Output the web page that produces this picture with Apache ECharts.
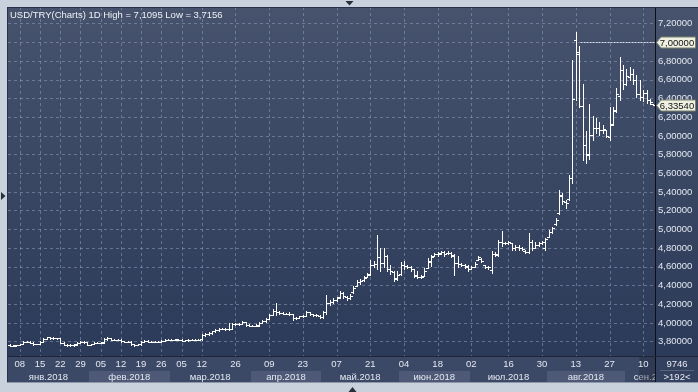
<!DOCTYPE html>
<html><head><meta charset="utf-8">
<script src="https://cdn.jsdelivr.net/npm/echarts@6/dist/echarts.min.js"></script>
<style>html,body{margin:0;padding:0;background:#c9d1dd}#c{width:698px;height:392px}</style>
</head><body><div id="c"></div>
<script>
// ---------------- DATA ----------------
const monthNames = ['янв.2018','фев.2018','мар.2018','апр.2018','май.2018','июн.2018','июл.2018','авг.2018','сен.2018'];
const janDays = [4,5,7,8,9,10,11,12,14,15,16,17,18,19,21,22,23,24,25,26,28,29,30,31];
const febDays = [1,2,4,5,6,7,8,9,11,12,13,14,15,16,18,19,20,21,22,23,25,26,27,28];
const marDays = [1,2,4,5,6,7,8,9,11,12,13,14,15,16,19,20,21,22,23,26,27,28,29,30];
const aprDays = [2,3,4,5,6,9,10,11,12,13,16,17,18,19,20,23,24,25,26,27,30];
const mayDays = [1,2,3,4,7,8,9,10,11,14,15,16,17,18,21,22,23,24,25,28,29,30,31];
const junDays = [1,4,5,6,7,8,11,12,13,14,15,18,19,20,21,22,25,26,27,28,29];
const julDays = [2,3,4,5,6,9,10,11,12,13,15,16,17,18,19,20,23,24,25,26,27,30,31];
const augDays = [1,2,3,6,7,8,9,10,13,14,15,16,17,20,21,22,23,24,27,28,29,30,31];
const sepDays = [3,4,5,6,7,10,11,12,13];

// rows: [open, close, low, high]
const ohlcJan = [
[3.765,3.755,3.750,3.770],[3.755,3.755,3.748,3.762],[3.760,3.765,3.758,3.768],[3.765,3.770,3.760,3.778],
[3.772,3.800,3.770,3.805],[3.800,3.800,3.792,3.808],[3.800,3.790,3.785,3.803],[3.788,3.770,3.766,3.792],
[3.772,3.775,3.770,3.778],[3.776,3.800,3.772,3.806],[3.800,3.830,3.796,3.836],[3.830,3.845,3.826,3.852],
[3.845,3.840,3.832,3.850],[3.840,3.840,3.830,3.848],[3.838,3.835,3.832,3.840],[3.835,3.790,3.786,3.842],
[3.790,3.765,3.760,3.794],[3.765,3.760,3.752,3.770],[3.760,3.765,3.755,3.770],[3.765,3.765,3.758,3.772],
[3.770,3.790,3.768,3.793],[3.790,3.800,3.785,3.806],[3.800,3.795,3.788,3.804],[3.795,3.765,3.760,3.798]];
const ohlcFeb = [
[3.765,3.770,3.760,3.776],[3.772,3.790,3.770,3.795],[3.788,3.790,3.786,3.794],[3.790,3.790,3.782,3.798],
[3.792,3.830,3.790,3.836],[3.830,3.835,3.822,3.845],[3.835,3.820,3.815,3.840],[3.820,3.820,3.812,3.828],
[3.820,3.820,3.816,3.824],[3.820,3.805,3.800,3.826],[3.805,3.800,3.795,3.810],[3.800,3.800,3.792,3.806],
[3.800,3.770,3.765,3.803],[3.770,3.765,3.758,3.775],[3.768,3.770,3.765,3.772],[3.770,3.800,3.768,3.806],
[3.800,3.810,3.795,3.818],[3.810,3.800,3.796,3.814],[3.800,3.800,3.793,3.806],[3.800,3.800,3.795,3.805],
[3.800,3.800,3.798,3.803],[3.800,3.810,3.796,3.815],[3.810,3.820,3.806,3.825],[3.820,3.820,3.812,3.826]];
const ohlcMar = [
[3.820,3.820,3.812,3.828],[3.820,3.825,3.815,3.830],[3.822,3.820,3.818,3.824],[3.820,3.810,3.805,3.825],
[3.810,3.815,3.806,3.822],[3.815,3.820,3.810,3.826],[3.820,3.820,3.812,3.828],[3.820,3.820,3.814,3.826],
[3.822,3.820,3.818,3.825],[3.825,3.870,3.820,3.878],[3.870,3.880,3.862,3.888],[3.880,3.890,3.872,3.898],
[3.892,3.910,3.886,3.918],[3.910,3.920,3.904,3.930],[3.922,3.940,3.918,3.948],[3.940,3.940,3.930,3.950],
[3.940,3.930,3.922,3.946],[3.930,3.930,3.920,4.000],[3.935,3.990,3.930,4.000],[3.990,3.990,3.978,3.998],
[3.988,3.990,3.980,3.996],[3.992,4.010,3.988,4.016],[4.005,3.980,3.970,4.008],[3.980,3.970,3.962,3.985]];
const ohlcApr = [
[3.970,3.970,3.962,3.978],[3.972,3.970,3.964,3.984],[3.975,4.000,3.972,4.012],[4.000,4.020,3.996,4.028],
[4.020,4.040,4.014,4.050],[4.045,4.080,4.040,4.090],[4.085,4.130,4.080,4.150],[4.130,4.120,4.080,4.210],
[4.115,4.110,4.100,4.125],[4.110,4.100,4.090,4.118],[4.100,4.100,4.092,4.110],[4.100,4.100,4.088,4.112],
[4.095,4.050,4.030,4.100],[4.050,4.050,4.040,4.065],[4.055,4.070,4.050,4.078],[4.070,4.070,4.060,4.080],
[4.075,4.120,4.070,4.125],[4.115,4.090,4.082,4.120],[4.090,4.080,4.072,4.095],[4.080,4.080,4.070,4.090],
[4.078,4.060,4.055,4.085]];
const ohlcMay = [
[4.060,4.120,4.050,4.130],[4.120,4.210,4.100,4.300],[4.210,4.220,4.190,4.240],[4.220,4.240,4.210,4.270],
[4.240,4.270,4.230,4.280],[4.280,4.320,4.270,4.340],[4.320,4.290,4.270,4.330],[4.280,4.270,4.250,4.290],
[4.270,4.290,4.260,4.310],[4.330,4.370,4.320,4.390],[4.400,4.440,4.390,4.460],[4.440,4.450,4.420,4.470],
[4.460,4.480,4.450,4.500],[4.490,4.510,4.490,4.530],[4.520,4.620,4.510,4.670],[4.620,4.630,4.600,4.660],
[4.630,4.700,4.580,4.940],[4.700,4.640,4.560,4.800],[4.640,4.720,4.600,4.800],[4.720,4.580,4.560,4.730],
[4.580,4.550,4.520,4.620],[4.540,4.470,4.450,4.550],[4.480,4.510,4.460,4.550]];
const ohlcJun = [
[4.520,4.620,4.510,4.650],[4.620,4.610,4.580,4.660],[4.610,4.600,4.590,4.620],[4.600,4.580,4.560,4.610],
[4.580,4.500,4.490,4.580],[4.510,4.490,4.480,4.550],[4.490,4.490,4.480,4.510],[4.500,4.560,4.500,4.590],
[4.590,4.660,4.590,4.690],[4.650,4.710,4.610,4.730],[4.720,4.740,4.720,4.750],[4.740,4.740,4.720,4.760],
[4.750,4.760,4.740,4.770],[4.760,4.740,4.720,4.770],[4.750,4.750,4.740,4.770],[4.750,4.720,4.700,4.760],
[4.730,4.640,4.510,4.740],[4.640,4.630,4.600,4.720],[4.630,4.620,4.610,4.640],[4.620,4.610,4.590,4.630],
[4.600,4.580,4.560,4.620]];
const ohlcJul = [
[4.580,4.600,4.580,4.610],[4.600,4.630,4.600,4.650],[4.670,4.700,4.670,4.720],[4.680,4.660,4.650,4.690],
[4.620,4.600,4.590,4.620],[4.600,4.600,4.580,4.610],[4.570,4.740,4.530,4.770],[4.740,4.740,4.720,4.760],
[4.730,4.860,4.720,4.890],[4.860,4.850,4.820,4.980],[4.850,4.850,4.840,4.870],[4.850,4.860,4.840,4.880],
[4.850,4.800,4.780,4.850],[4.800,4.810,4.780,4.830],[4.810,4.800,4.780,4.830],[4.800,4.790,4.780,4.810],
[4.770,4.760,4.750,4.780],[4.760,4.860,4.750,4.960],[4.860,4.800,4.780,4.890],[4.800,4.830,4.800,4.860],
[4.830,4.850,4.820,4.870],[4.850,4.870,4.840,4.880],[4.800,4.900,4.780,4.910]];
const ohlcAug = [
[4.920,4.970,4.920,4.990],[4.970,5.020,4.960,5.030],[5.060,5.100,5.050,5.120],[5.180,5.370,5.170,5.420],
[5.360,5.300,5.270,5.390],[5.290,5.280,5.230,5.310],[5.320,5.550,5.310,5.580],[5.550,6.400,5.500,6.810],
[7.030,6.900,6.380,7.1095],[6.880,6.320,6.310,6.960],[6.320,5.900,5.740,6.560],[5.900,5.810,5.710,6.050],
[5.800,6.010,5.750,6.340],[6.010,6.080,5.960,6.210],[6.080,6.080,6.030,6.190],[6.080,6.060,6.010,6.150],
[6.060,6.070,6.030,6.120],[6.060,6.000,5.990,6.060],[5.990,6.120,5.960,6.310],[6.130,6.270,6.120,6.310],
[6.280,6.450,6.260,6.510],[6.430,6.700,6.380,6.840],[6.700,6.550,6.500,6.760]];
const ohlcSep = [
[6.560,6.640,6.540,6.720],[6.630,6.660,6.600,6.740],[6.660,6.600,6.560,6.720],[6.600,6.450,6.420,6.650],
[6.450,6.420,6.380,6.600],[6.420,6.460,6.370,6.490],[6.460,6.380,6.350,6.490],[6.380,6.360,6.340,6.390],
[6.345,6.3354,6.330,6.345]];

const tickDates = ['2018-01-08','2018-01-15','2018-01-22','2018-01-29','2018-02-05','2018-02-12','2018-02-19','2018-02-26',
  '2018-03-05','2018-03-12','2018-03-26','2018-04-09','2018-04-23','2018-05-07','2018-05-21','2018-06-04','2018-06-18',
  '2018-07-02','2018-07-16','2018-07-30','2018-08-13','2018-08-27','2018-09-10'];
const titleText = 'USD/TRY(Charts) 1D High = 7,1095 Low = 3,7156';
const lastPrice = 6.3354;
const alertLevel = 7.0;
const alertFromDate = '2018-08-15';
const footerTop = '9746';
const footerBottom = '>192<';
const yMin = 3.6, yMax = 7.4, yStep = 0.2;

// ---------------- BUILD ----------------
const pad = n => (n < 10 ? '0' : '') + n;
const monthDays = [janDays, febDays, marDays, aprDays, mayDays, junDays, julDays, augDays, sepDays];
const monthRows = [ohlcJan, ohlcFeb, ohlcMar, ohlcApr, ohlcMay, ohlcJun, ohlcJul, ohlcAug, ohlcSep];
const dates = [], monthStart = [], ohlc = [];
monthDays.forEach((days, m) => { monthStart.push(dates.length); days.forEach(d => dates.push('2018-' + pad(m + 1) + '-' + pad(d))); });
monthRows.forEach(rows => rows.forEach(r => ohlc.push(r)));
const seriesData = ohlc.map((r, i) => [i, r[0], r[1], r[2], r[3]]);
const tickIdx = tickDates.map(d => dates.indexOf(d));
const tickSet = new Set(tickIdx);
const fmt = v => v.toFixed(5).replace('.', ',');

const FONT = '"Liberation Sans", Arial, sans-serif';
const FS = 9.5;
const TXT = '#e4e8f0';
const GRID_C = 'rgba(150,165,195,0.5)';
const plotGrad = {type: 'linear', x: 0, y: 0, x2: 0, y2: 1, colorStops: [{offset: 0, color: '#47536d'}, {offset: 1, color: '#2b3a58'}]};

function renderItem(params, api) {
  const idx = api.value(0);
  const po = api.coord([idx, api.value(1)]);
  const x = Math.round(po[0]) + 0.5;
  const yo = Math.round(po[1]) + 0.5;
  const yc = Math.round(api.coord([idx, api.value(2)])[1]) + 0.5;
  const yl = Math.round(api.coord([idx, api.value(3)])[1]);
  const yh = Math.round(api.coord([idx, api.value(4)])[1]);
  const st = {stroke: '#ffffff', lineWidth: 1};
  return {type: 'group', children: [
    {type: 'line', shape: {x1: x, y1: yh, x2: x, y2: yl + 1}, style: st},
    {type: 'line', shape: {x1: x - 2.5, y1: yo, x2: x, y2: yo}, style: st},
    {type: 'line', shape: {x1: x, y1: yc, x2: x + 2.5, y2: yc}, style: st}
  ]};
}

const chart = echarts.init(document.getElementById('c'), null, {renderer: 'canvas'});
chart.setOption({
  animation: false,
  backgroundColor: '#c9d1dd',
  grid: {left: 8, right: 43, top: 5, bottom: 31.7, show: true, backgroundColor: plotGrad, borderWidth: 0, z: 0},
  xAxis: [
    {type: 'category', data: dates, boundaryGap: true, z: 30,
     axisLine: {show: false}, axisTick: {show: false}, splitLine: {show: false},
     axisLabel: {interval: (i) => tickSet.has(i), formatter: v => v.slice(8), color: TXT,
       fontSize: FS, fontFamily: FONT, margin: 4.5, verticalAlign: 'middle'}}
  ],
  yAxis: [
    {type: 'value', position: 'right', min: yMin, max: yMax, interval: yStep, z: 30,
     axisLine: {show: false}, axisTick: {show: false}, splitLine: {show: false},
     axisLabel: {color: TXT, fontSize: FS, fontFamily: FONT, margin: 3,
       formatter: v => (v < 3.7 || v > 7.3) ? '' : fmt(v)}},
    {type: 'value', position: 'left', min: yMin, max: yMax, interval: yStep, z: 1,
     axisLine: {show: false}, axisTick: {show: false}, axisLabel: {show: false},
     splitLine: {show: true, lineStyle: {color: GRID_C, type: [3, 3], width: 1}}}
  ],
  series: [{type: 'custom', name: 'USD/TRY', xAxisIndex: 0, yAxisIndex: 0, z: 3,
    renderItem: renderItem, data: seriesData, encode: {x: 0, y: [1, 2, 3, 4]}}]
});

// ---------------- DECORATION (positions from the chart's own scales) ----------------
const X = i => chart.convertToPixel({xAxisIndex: 0}, i);
const Y = v => chart.convertToPixel({yAxisIndex: 0}, v);
const bw = X(1) - X(0);
const plotL = X(0) - bw / 2, plotR = X(dates.length - 1) + bw / 2;
const plotT = 7, plotB = 356, axisB = 383;
const g = [];
// vertical dashed grid lines at labelled dates
tickIdx.forEach(i => {
  const x = Math.round(X(i)) + 0.5;
  g.push({type: 'line', shape: {x1: x, y1: plotT, x2: x, y2: plotB}, style: {stroke: GRID_C, lineWidth: 1, lineDash: [3, 3]}, z: 1});
});
// frame strips
g.push({type: 'rect', shape: {x: 0, y: 0, width: 698, height: plotT}, style: {fill: '#c9d1dd'}, z: 20});
g.push({type: 'rect', shape: {x: 0, y: 0, width: 7, height: 392}, style: {fill: '#c9d1dd'}, z: 20});
g.push({type: 'rect', shape: {x: 0, y: axisB, width: 698, height: 392 - axisB}, style: {fill: '#c9d1dd'}, z: 20});
// bottom axis band
g.push({type: 'rect', shape: {x: 7, y: plotB, width: plotR - 7, height: axisB - plotB}, style: {fill: '#3b4866'}, z: 20});
monthStart.forEach((s, m) => {
  const e = m + 1 < monthStart.length ? monthStart[m + 1] : dates.length + 8;
  const x0 = Math.max(plotL, X(s) - bw / 2);
  const x1 = m + 1 < monthStart.length ? X(e) - bw / 2 : X(s) - bw / 2 + (e - s) * bw;
  if (m % 2 === 1) {
    g.push({type: 'rect', shape: {x: Math.round(x0), y: 371, width: Math.round(x1) - Math.round(x0), height: axisB - 371},
      style: {fill: '#4d5976'}, z: 21});
  }
  g.push({type: 'text', x: (x0 + x1) / 2, y: 377.5, style: {text: monthNames[m], fill: TXT, font: FS + 'px ' + FONT,
    align: 'center', verticalAlign: 'middle'}, z: 22});
});
// current-period highlight in axis band
const lastTickX = X(tickIdx[tickIdx.length - 1]) - 4;
g.push({type: 'rect', shape: {x: lastTickX, y: plotB + 1, width: plotR - lastTickX, height: axisB - plotB - 1},
  style: {fill: 'rgba(25,35,55,0.35)'}, z: 23});
// right value panel
g.push({type: 'rect', shape: {x: plotR, y: plotT, width: 698 - plotR, height: plotB - plotT}, style: {fill: plotGrad}, z: 24});
g.push({type: 'rect', shape: {x: plotR, y: plotB, width: 698 - plotR, height: axisB - plotB}, style: {fill: '#34415e'}, z: 24});
g.push({type: 'text', x: 677, y: 364.5, style: {text: footerTop, fill: TXT, font: FS + 'px ' + FONT, align: 'center', verticalAlign: 'middle'}, z: 25});
g.push({type: 'line', shape: {x1: 660, y1: 370.5, x2: 694, y2: 370.5}, style: {stroke: 'rgba(255,255,255,0.18)', lineWidth: 1}, z: 25});
g.push({type: 'text', x: 677, y: 377.5, style: {text: footerBottom, fill: TXT, font: FS + 'px ' + FONT, align: 'center', verticalAlign: 'middle'}, z: 25});
// borders
const bx = Math.round(plotR) + 0.5;
g.push({type: 'line', shape: {x1: bx, y1: plotT, x2: bx, y2: axisB}, style: {stroke: '#0c0f16', lineWidth: 1}, z: 26});
g.push({type: 'line', shape: {x1: 7, y1: plotB + 0.5, x2: 698, y2: plotB + 0.5}, style: {stroke: '#1d2537', lineWidth: 1}, z: 26});
g.push({type: 'line', shape: {x1: 7.5, y1: plotT, x2: 7.5, y2: axisB}, style: {stroke: '#27314a', lineWidth: 1}, z: 26});
g.push({type: 'line', shape: {x1: 7, y1: plotT + 0.5, x2: 698, y2: plotT + 0.5}, style: {stroke: '#27314a', lineWidth: 1}, z: 26});
g.push({type: 'line', shape: {x1: 7, y1: axisB - 0.5, x2: 698, y2: axisB - 0.5}, style: {stroke: '#8d97a8', lineWidth: 1}, z: 26});
// title
g.push({type: 'text', x: 10, y: 15, style: {text: titleText, fill: '#eef1f6', font: FS + 'px ' + FONT, verticalAlign: 'middle'}, z: 27});
// alert level dotted line
const ya = Math.round(Y(alertLevel)) + 0.5;
g.push({type: 'line', shape: {x1: X(dates.indexOf(alertFromDate)) - 2, y1: ya, x2: plotR, y2: ya},
  style: {stroke: '#d9dde6', lineWidth: 1, lineDash: [2, 1]}, z: 27});
// price tags
function tag(v) {
  const y = Math.round(Y(v)) + 0.5;
  g.push({type: 'polygon', shape: {points: [[plotR + 1.5, y], [plotR + 6, y - 5.5], [695.5, y - 5.5], [695.5, y + 5.5], [plotR + 6, y + 5.5]]},
    style: {fill: '#eef0e2', stroke: '#7a806c', lineWidth: 1}, z: 40});
  g.push({type: 'text', x: 677, y: y + 0.5, style: {text: fmt(v), fill: '#111', font: FS + 'px ' + FONT, align: 'center', verticalAlign: 'middle'}, z: 41});
}
tag(alertLevel);
tag(lastPrice);
// scroll arrows
g.push({type: 'polygon', shape: {points: [[345.5, 1], [353.5, 1], [349.5, 5.5]]}, style: {fill: '#2a2f38'}, z: 42});
g.push({type: 'polygon', shape: {points: [[1, 192], [1, 200], [5.5, 196]]}, style: {fill: '#2a2f38'}, z: 42});
g.push({type: 'polygon', shape: {points: [[348.5, 392], [356.5, 392], [352.5, 387]]}, style: {fill: '#2a2f38'}, z: 42});
chart.setOption({graphic: {elements: g}});
</script></body></html>
